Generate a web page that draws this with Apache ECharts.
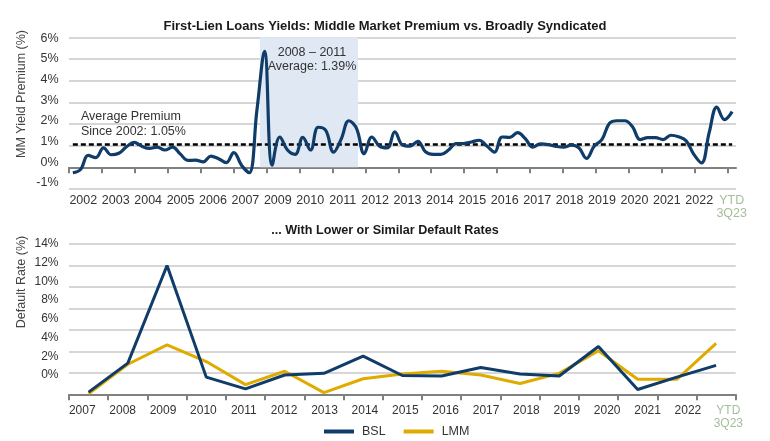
<!DOCTYPE html>
<html>
<head>
<meta charset="utf-8">
<script src="https://cdn.jsdelivr.net/npm/echarts@6/dist/echarts.min.js"></script>
<style>
html,body{margin:0;padding:0;background:#ffffff;}
#c{width:770px;height:441px;}
</style>
</head>
<body>
<div id="c"></div>
<script>
// ---------- Data: top chart (quarterly MM yield premium, %) ----------
const quarterLabels = [];
for (let y = 2002; y <= 2023; y++) {
  for (let q = 1; q <= 4; q++) {
    if (y === 2023 && q === 4) break;
    quarterLabels.push(q + 'Q' + String(y).slice(2));
  }
}
const premiumValues = [
  -0.25, -0.10, 0.55, 0.45, 0.90, 0.58, 0.65, 0.95, 1.15, 0.97,
  0.87, 0.93, 0.80, 0.93, 0.62, 0.32, 0.33, 0.25, 0.52, 0.40,
  0.22, 0.68, 0.10, -0.25, 2.60, 5.35, 0.10, 1.40, 0.80, 0.60,
  1.38, 0.80, 1.85, 1.70, 0.70, 1.30, 2.15, 1.80, 0.63, 1.40,
  0.98, 0.90, 1.64, 1.03, 0.98, 1.20, 0.72, 0.60, 0.60, 0.80,
  1.10, 1.10, 1.17, 1.25, 0.98, 0.70, 1.40, 1.38, 1.60, 1.33,
  0.93, 1.08, 1.05, 0.97, 0.93, 1.02, 0.90, 0.41, 0.97, 1.28,
  2.03, 2.15, 2.15, 1.87, 1.28, 1.37, 1.37, 1.28, 1.48, 1.41,
  1.22, 0.60, 0.20, 1.60, 2.78, 2.20, 2.57
];
const premiumYearLabels = ['2002','2003','2004','2005','2006','2007','2009','2010','2011','2012',
  '2013','2014','2015','2016','2017','2018','2019','2020','2021','2022','YTD\n3Q23'];
const premiumTickSlots = ['','','','','','','','','','','','','','','','','','','',''];
const averagePremium = 1.05;
const crisisStart = 24.4, crisisEnd = 37.2;   // shaded 2008 - 2011 window (quarter index)
const crisisTop = 6;

// ---------- Data: bottom chart (default rates, %) ----------
const defaultYears = ['2007','2008','2009','2010','2011','2012','2013','2014','2015','2016',
  '2017','2018','2019','2020','2021','2022','YTD\n3Q23'];
const bslDefault = [0.2, 2.9, 12.0, 1.6, 0.5, 1.8, 1.95, 3.55, 1.75, 1.7, 2.5, 1.9, 1.7, 4.45, 0.45, 1.6, 2.7];
const lmmDefault = [0.05, 2.8, 4.6, 3.05, 0.9, 2.15, 0.15, 1.45, 1.9, 2.15, 1.8, 1.0, 1.95, 4.05, 1.4, 1.4, 4.75];

// ---------- Styling ----------
const FONT = 'Liberation Sans, Arial, Helvetica, sans-serif';
const NAVY = '#0f3c69';
const GOLD = '#e0ab00';
const GRID_C = '#c8c8c8';
const AXIS_C = '#808080';
const TXT = '#333333';
const YTD_C = '#a3bf9b';

function ytdFormatter(v) {
  if (v.indexOf('YTD') === 0) {
    return v.split('\n').map(s => '{g|' + s + '}').join('\n');
  }
  return v;
}

const chart = echarts.init(document.getElementById('c'), null, {renderer: 'canvas'});

const hiddenX = (g) => ({gridIndex: g, type: 'value', show: false, min: 0, max: 1});
const hiddenY = (g) => ({gridIndex: g, type: 'value', show: false, min: 0, max: 1});

const option = {
  backgroundColor: '#ffffff',
  animation: false,
  textStyle: {fontFamily: FONT},
  title: [
    {text: 'First-Lien Loans Yields: Middle Market Premium vs. Broadly Syndicated', left: 'center', top: 15,
     textStyle: {fontSize: 13, fontWeight: 'bold', color: '#1a1a1a', fontFamily: FONT}},
    {text: '... With Lower or Similar Default Rates', left: 'center', top: 219.5,
     textStyle: {fontSize: 12.6, fontWeight: 'bold', color: '#1a1a1a', fontFamily: FONT}}
  ],
  legend: {
    data: ['BSL', 'LMM'],
    left: 319, top: 420,
    icon: 'rect', itemWidth: 30, itemHeight: 4, itemGap: 18,
    textStyle: {fontSize: 12.5, color: TXT, fontFamily: FONT, padding: [0, 0, 0, 3]}
  },
  grid: [
    {left: 69, right: 34, top: 37.3, bottom: 252},          // 0 top data
    {left: 69, right: 42.4, top: 37.3, bottom: 273.7},      // 1 top ticks
    {left: 67.1, right: 22.1, top: 37.3, bottom: 252},      // 2 top x labels
    {left: 69, right: 34, top: 38.3, bottom: 258},          // 3 top y labels
    {left: 69, right: 34.3, top: 244, bottom: 46.7},        // 4 bottom data
    {left: 62.1, right: 21.5, top: 244, bottom: 46.7},      // 5 bottom x labels
    {left: 69, right: 34.3, top: 244, bottom: 66}           // 6 bottom y labels
  ],
  xAxis: [
    {gridIndex: 0, type: 'value', min: -0.5, max: quarterLabels.length - 0.5,
     axisLine: {show: true, onZero: true, lineStyle: {color: AXIS_C, width: 2}},
     axisTick: {show: false}, axisLabel: {show: false}, splitLine: {show: false}},
    {gridIndex: 1, type: 'category', data: premiumTickSlots, boundaryGap: true, position: 'bottom',
     axisLine: {show: false, onZero: false},
     axisTick: {show: true, length: 6, lineStyle: {color: AXIS_C, width: 2}},
     axisLabel: {show: false}},
    {gridIndex: 2, type: 'category', data: premiumYearLabels, boundaryGap: true, position: 'bottom',
     axisLine: {show: false, onZero: false}, axisTick: {show: false},
     axisLabel: {show: true, interval: 0, margin: 4.5, fontSize: 12.5, color: TXT, lineHeight: 13.3,
       formatter: ytdFormatter,
       rich: {g: {color: YTD_C, fontSize: 12.5, lineHeight: 13.3, fontFamily: FONT}}}},
    hiddenX(3),
    {gridIndex: 4, type: 'category', data: defaultYears, boundaryGap: true, position: 'bottom',
     axisLine: {show: true, onZero: false, lineStyle: {color: AXIS_C, width: 2}},
     axisTick: {show: true, length: 6, interval: 0, lineStyle: {color: AXIS_C, width: 2}},
     axisLabel: {show: false}},
    {gridIndex: 5, type: 'category', data: defaultYears, boundaryGap: true, position: 'bottom',
     axisLine: {show: false, onZero: false}, axisTick: {show: false},
     axisLabel: {show: true, interval: 0, margin: 9.8, fontSize: 12, color: TXT, lineHeight: 13.3,
       formatter: ytdFormatter,
       rich: {g: {color: YTD_C, fontSize: 12, lineHeight: 13.3, fontFamily: FONT}}}},
    hiddenX(6)
  ],
  yAxis: [
    {gridIndex: 0, type: 'value', min: -1, max: 6, interval: 1,
     axisLine: {show: false}, axisTick: {show: false}, axisLabel: {show: false},
     splitLine: {show: true, lineStyle: {color: GRID_C, width: 1.5}}},
    {gridIndex: 1, type: 'value', show: false, min: -1, max: 6},
    {gridIndex: 2, type: 'value', show: false, min: -1, max: 6},
    {gridIndex: 3, type: 'value', min: -1, max: 6, interval: 1,
     axisLine: {show: false}, axisTick: {show: false}, splitLine: {show: false},
     axisLabel: {show: true, margin: 10.5, fontSize: 12.5, color: TXT, formatter: '{value}%'}},
    {gridIndex: 4, type: 'value', min: 0, max: 14, interval: 2,
     axisLine: {show: false}, axisTick: {show: false}, axisLabel: {show: false},
     splitLine: {show: true, lineStyle: {color: GRID_C, width: 1.5}}},
    hiddenY(5),
    {gridIndex: 6, type: 'value', min: 0, max: 14, interval: 2,
     axisLine: {show: false}, axisTick: {show: false}, splitLine: {show: false},
     axisLabel: {show: true, margin: 10.5, fontSize: 12, color: TXT, formatter: '{value}%'}}
  ],
  series: [
    {
      name: 'MM Yield Premium', type: 'line', xAxisIndex: 0, yAxisIndex: 0,
      data: premiumValues.map((v, i) => ({name: quarterLabels[i], value: [i, v]})),
      smooth: 0.4, symbol: 'none', z: 4,
      lineStyle: {color: NAVY, width: 3.2},
      markArea: {
        silent: true, z: 1,
        itemStyle: {color: '#dfe8f3'},
        data: [[{xAxis: crisisStart, yAxis: 0}, {xAxis: crisisEnd, yAxis: crisisTop}]]
      },
      markLine: {
        silent: true, symbol: 'none', z: 3,
        label: {show: false},
        lineStyle: {color: '#000000', width: 2.5, type: [5, 3]},
        data: [[{xAxis: 0, yAxis: averagePremium}, {xAxis: premiumValues.length - 1, yAxis: averagePremium}]]
      }
    },
    {
      name: 'BSL', type: 'line', xAxisIndex: 4, yAxisIndex: 4,
      data: bslDefault, symbol: 'none', z: 4,
      lineStyle: {color: NAVY, width: 3}, itemStyle: {color: NAVY}
    },
    {
      name: 'LMM', type: 'line', xAxisIndex: 4, yAxisIndex: 4,
      data: lmmDefault, symbol: 'none', z: 3,
      lineStyle: {color: GOLD, width: 3}, itemStyle: {color: GOLD}
    }
  ],
  graphic: [
    {type: 'text', x: 21.7, y: 94, rotation: Math.PI / 2, z: 10,
     style: {text: 'MM Yield Premium (%)', fontSize: 12.5, fill: '#444444', fontFamily: FONT,
       align: 'center', verticalAlign: 'middle'}},
    {type: 'text', x: 21.7, y: 282, rotation: Math.PI / 2, z: 10,
     style: {text: 'Default Rate (%)', fontSize: 12.5, fill: '#444444', fontFamily: FONT,
       align: 'center', verticalAlign: 'middle'}},
    {type: 'text', x: 312, y: 59.5, z: 10,
     style: {text: '2008 \u2013 2011\nAverage: ' + '1.39%', fontSize: 12.5, lineHeight: 14.4, fill: TXT,
       fontFamily: FONT, align: 'center', verticalAlign: 'middle'}},
    {type: 'text', x: 81, y: 124, z: 10,
     style: {text: 'Average Premium\nSince 2002: ' + averagePremium.toFixed(2) + '%', fontSize: 12.5, lineHeight: 14.3,
       fill: TXT, fontFamily: FONT, align: 'left', verticalAlign: 'middle'}}
  ]
};

chart.setOption(option);
</script>
</body>
</html>
